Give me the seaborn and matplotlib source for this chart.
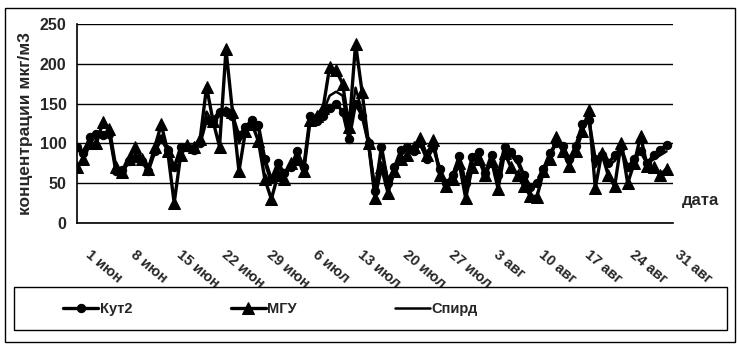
import matplotlib
matplotlib.use("Agg")
import matplotlib.pyplot as plt
import matplotlib.transforms as mtransforms
from matplotlib.patches import Rectangle
import numpy as np
import pandas as pd
import seaborn as sns

# daily values, 1 Jun .. 31 Aug
kut2 = [95, 88, 108, 112, 110, 112, 65, 66, 78, 82, 78, 65, 90, 105, 92, 70,
        95, 95, 92, 100, 130, 130, 140, 140, 135, 110, 120, 130, 123, 80, 55,
        75, 63, 70, 90, 70, 135, 128, 135, 145, 150, 140, 105, 150, 135, 100,
        40, 96, 50, 70, 92, 96, 90, 100, 80, 95, 68, 50, 60, 84, 50, 83, 89,
        63, 86, 60, 96, 89, 80, 60, 45, 50, 68, 88, 100, 97, 80, 97, 124, 130,
        80, 85, 75, 85, 95, 70, 80, 90, 75, 85, 92, 98]
mgu = [70, 80, 100, 100, 127, 118, 70, 64, 80, 96, 80, 68, 95, 124, 90, 25,
       85, 98, 96, 105, 171, 128, 96, 218, 140, 65, 115, 125, 103, 55, 30,
       60, 55, 75, 80, 65, 130, 135, 145, 196, 192, 175, 120, 225, 165, 100,
       32, 70, 38, 65, 80, 85, 95, 107, 85, 104, 60, 46, 55, 75, 31, 70, 80,
       60, 78, 43, 88, 70, 60, 46, 34, 33, 65, 80, 108, 90, 72, 90, 115, 142,
       44, 88, 60, 46, 101, 50, 75, 109, 72, 70, 60, 68]
spird = [90, 92, 105, 108, 112, 110, 68, 65, 75, 85, 78, 66, 88, 110, 90, 68,
         90, 94, 95, 100, 140, 125, 135, 145, 140, 100, 118, 128, 118, 75, 50,
         70, 62, 72, 88, 68, 132, 130, 140, 160, 165, 160, 110, 170, 140, 98,
         45, 90, 55, 68, 90, 92, 90, 98, 82, 98, 65, 50, 58, 80, 40, 78, 85,
         62, 84, 55, 92, 85, 75, 58, 42, 48, 66, 85, 100, 95, 78, 95, 120, 132,
         70, 84, 72, 78, 90, 68, 78, 92, 74, 80, 85, 90]
tick_labels = ["1 июн", "8 июн", "15 июн", "22 июн", "29 июн", "6 июл", "13 июл",
               "20 июл", "27 июл", "3 авг", "10 авг", "17 авг", "24 авг", "31 авг"]

days = np.arange(len(kut2))
df = pd.DataFrame({"day": days, "Кут2": kut2, "МГУ": mgu, "Спирд": spird})

sns.set_style("white")
plt.rcParams["font.family"] = ["Liberation Sans", "DejaVu Sans"]
plt.rcParams["font.weight"] = "bold"

fig = plt.figure(figsize=(7.37, 3.44), dpi=100)
ax = fig.add_axes([77 / 737, 1 - 223 / 344, 596 / 737, 199 / 344])

sns.lineplot(data=df, x="day", y="Спирд", ax=ax, color="black", lw=1.8, label="Спирд")
sns.lineplot(data=df, x="day", y="Кут2", ax=ax, color="black", lw=2.4, marker="o",
             ms=6, mec="black", label="Кут2")
sns.lineplot(data=df, x="day", y="МГУ", ax=ax, color="black", lw=2.4, marker="^",
             ms=8, mec="black", label="МГУ")

ax.set_xlim(0, 92)
ax.set_ylim(0, 250)
ax.set_yticks(range(0, 251, 50))
tick_pos = list(range(0, 92, 7))
ax.set_xticks(tick_pos)
ax.set_xticklabels([])
# rotated date labels, shifted a bit right of and below each tick
offset = mtransforms.ScaledTranslation(15 / 100, -25 / 100, fig.dpi_scale_trans)
for p, t in zip(tick_pos, tick_labels):
    ax.text(p, 0, t, transform=ax.get_xaxis_transform() + offset, rotation=-40,
            ha="left", va="top", rotation_mode="anchor", fontsize=10.5, fontweight="bold")
ax.tick_params(axis="both", labelsize=11.5, length=4, width=1, color="black", direction="out")
ax.yaxis.grid(True, color="black", lw=1)
ax.set_axisbelow(True)
for s in ["top", "right"]:
    ax.spines[s].set_visible(False)
for s in ["left", "bottom"]:
    ax.spines[s].set_color("black")
    ax.spines[s].set_linewidth(1.2)
ax.set_xlabel("")
ax.set_ylabel("концентрации мкг/м3", fontsize=12.5, fontweight="bold", labelpad=5)
fig.text(682 / 737, 1 - 200 / 344, "дата", fontsize=12, fontweight="bold", va="center")

handles, labels = ax.get_legend_handles_labels()
order = [labels.index(n) for n in ["Кут2", "МГУ", "Спирд"]]
ax.legend_.remove()
fig.legend([handles[i] for i in order], [labels[i] for i in order], ncol=3,
           loc="center left", bbox_to_anchor=(50 / 737, 1 - 309 / 344), frameon=False,
           handlelength=2.4, handletextpad=0.1, columnspacing=6.75,
           prop={"weight": "bold", "size": 10.5})

# legend box and outer frame
fig.add_artist(Rectangle((14 / 737, 1 - 330 / 344), 713 / 737, 43 / 344,
                         transform=fig.transFigure, fill=False, ec="black", lw=1))
fig.add_artist(Rectangle((5 / 737, 2 / 344), 730 / 737, 334 / 344,
                         transform=fig.transFigure, fill=False, ec="black", lw=1))

fig.savefig("out.png", dpi=100)
